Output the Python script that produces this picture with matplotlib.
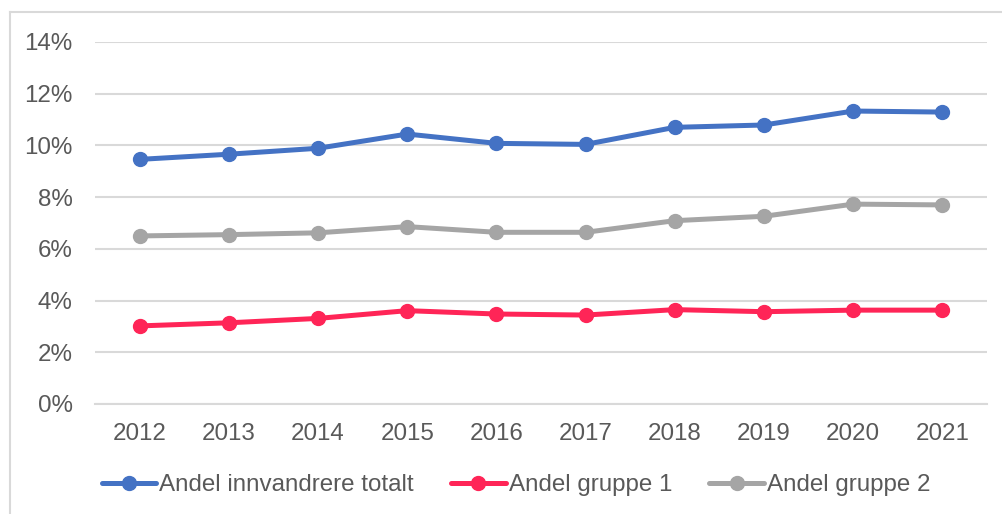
import matplotlib
matplotlib.use("Agg")
import matplotlib.pyplot as plt
from matplotlib.lines import Line2D
from matplotlib.ticker import FuncFormatter

years = ["2012", "2013", "2014", "2015", "2016", "2017", "2018", "2019", "2020", "2021"]
andel_totalt = [9.46, 9.66, 9.89, 10.44, 10.08, 10.04, 10.70, 10.79, 11.33, 11.29]
andel_gruppe1 = [3.02, 3.14, 3.31, 3.61, 3.48, 3.44, 3.65, 3.57, 3.63, 3.63]
andel_gruppe2 = [6.50, 6.55, 6.62, 6.86, 6.64, 6.64, 7.09, 7.26, 7.73, 7.70]
labels = ["Andel innvandrere totalt", "Andel gruppe 1", "Andel gruppe 2"]
colors = ["#4472C4", "#FF2557", "#A5A5A5"]

plt.rcParams['font.family'] = ['Liberation Sans', 'DejaVu Sans']
text_color = "#595959"
grid_color = "#D9D9D9"
fs = 17.4

fig = plt.figure(figsize=(10.02, 5.14), dpi=100)
W, H = 1002, 514
ax = fig.add_axes([95 / W, 1 - 404 / H, (987 - 95) / W, (404 - 42) / H])

x = list(range(len(years)))
for series, lab, c in zip([andel_totalt, andel_gruppe1, andel_gruppe2], labels, colors):
    ax.plot(x, series, color=c, lw=3.6, marker='o', markersize=10,
            solid_capstyle='round', label=lab, zorder=3)

ax.set_xlim(-0.5, len(years) - 0.5)
ax.set_ylim(0, 14)
ax.set_yticks(range(0, 15, 2))
ax.yaxis.set_major_formatter(FuncFormatter(lambda v, p: f"{int(v)}%"))
ax.set_xticks(x)
ax.set_xticklabels(years)
ax.grid(axis='y', color=grid_color, lw=1.5, zorder=0)
ax.set_axisbelow(True)
for s in ['top', 'right', 'left']:
    ax.spines[s].set_visible(False)
ax.spines['bottom'].set_color(grid_color)
ax.spines['bottom'].set_linewidth(1.5)
ax.tick_params(axis='both', length=0, labelsize=fs, labelcolor=text_color)
ax.tick_params(axis='x', pad=13.5)
ax.tick_params(axis='y', pad=16)

handles = [Line2D([0], [0], color=c, lw=3.6, marker='o', markersize=10,
                  solid_capstyle='round') for c in colors]
leg = fig.legend(handles, labels, loc='center', bbox_to_anchor=(516 / W, 1 - 485 / H),
                 ncol=3, frameon=False, fontsize=fs, handlelength=2.25,
                 handletextpad=0.12, columnspacing=1.55, labelcolor=text_color,
                 borderaxespad=0, borderpad=0)

# chart area border (left and top visible)
fig.add_artist(Line2D([10 / W, 10 / W], [0, 1 - 12 / H], color=grid_color, lw=1.5,
                      transform=fig.transFigure))
fig.add_artist(Line2D([10 / W, 1], [1 - 12 / H, 1 - 12 / H], color=grid_color, lw=1.5,
                      transform=fig.transFigure))

fig.savefig("out.png", dpi=100)
